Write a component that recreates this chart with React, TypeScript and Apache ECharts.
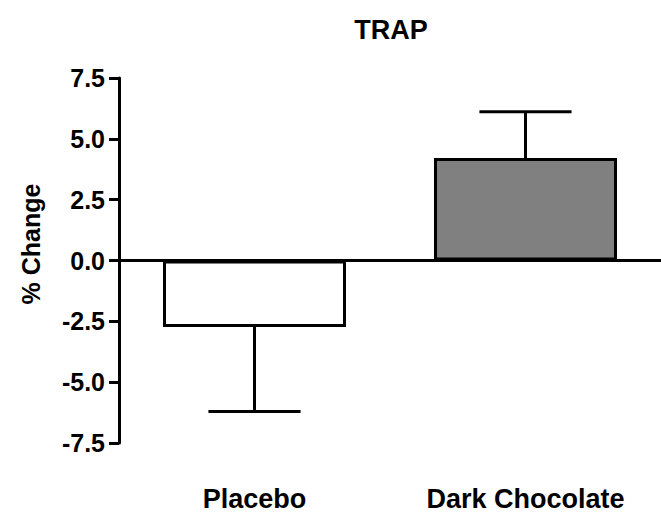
import React, { useEffect, useRef } from "react";
import * as echarts from "echarts";

const categories = ["Placebo", "Dark Chocolate"];
const meanValues = [-2.73, 4.21];
const semValues = [3.48, 1.9];
const barColors = ["#ffffff", "#808080"];
const yTicks = { min: -7.5, max: 7.5, interval: 2.5 };
const chartTitle = "TRAP";
const yTitle = "% Change";

const FONT = "'Liberation Sans', Arial, Helvetica, sans-serif";

export default function App() {
  const ref = useRef<HTMLDivElement>(null);
  useEffect(() => {
    if (!ref.current) return;
    const chart = echarts.init(ref.current, null, { renderer: "svg" });
    const option: any = {
      animation: false,
      backgroundColor: "#ffffff",
      title: {
        text: chartTitle,
        left: 386,
        top: 11,
        textAlign: "center",
        textStyle: { fontFamily: FONT, fontSize: 27, fontWeight: "bold", color: "#000" },
      },
      grid: { left: 119, top: 78, width: 554, height: 365, containLabel: false },
      xAxis: [
        {
          type: "category",
          data: categories,
          position: "bottom",
          axisLine: { show: true, onZero: true, lineStyle: { color: "#000", width: 3 } },
          axisTick: { show: false },
          axisLabel: { show: false },
        },
        {
          type: "category",
          data: categories,
          position: "bottom",
          axisLine: { show: false, onZero: false },
          axisTick: { show: false },
          axisLabel: {
            show: true,
            margin: 42,
            fontFamily: FONT,
            fontSize: 27,
            fontWeight: "bold",
            color: "#000",
          },
        },
      ],
      yAxis: {
        type: "value",
        min: yTicks.min,
        max: yTicks.max,
        interval: yTicks.interval,
        splitLine: { show: false },
        axisLine: { show: true, lineStyle: { color: "#000", width: 3 } },
        axisTick: { show: true, inside: false, length: 10, lineStyle: { color: "#000", width: 3 } },
        axisLabel: {
          margin: 14,
          fontFamily: FONT,
          fontSize: 25,
          fontWeight: "bold",
          color: "#000",
          formatter: (v: number) => v.toFixed(1),
        },
      },
      graphic: [
        {
          type: "text",
          x: 31,
          y: 244,
          rotation: Math.PI / 2,
          style: {
            text: yTitle,
            fontFamily: FONT,
            fontSize: 25,
            fontWeight: "bold",
            fill: "#000",
            align: "center",
            verticalAlign: "middle",
          },
        },
      ],
      series: [
        {
          type: "bar",
          xAxisIndex: 0,
          barWidth: 183,
          data: meanValues.map((v, i) => ({
            value: v,
            itemStyle: { color: barColors[i], borderColor: "#000", borderWidth: 3 },
          })),
          z: 3,
        },
        {
          type: "custom",
          xAxisIndex: 0,
          data: meanValues.map((v, i) => [i, v, semValues[i]]),
          z: 4,
          renderItem: (params: any, api: any) => {
            const idx = api.value(0);
            const mean = api.value(1);
            const err = api.value(2);
            const end = mean >= 0 ? mean + err : mean - err;
            const p0 = api.coord([idx, mean]);
            const p1 = api.coord([idx, end]);
            const band = api.size([1, 0])[0];
            const half = band * 0.17;
            const style = { stroke: "#000", lineWidth: 3 };
            return {
              type: "group",
              children: [
                { type: "line", shape: { x1: p0[0], y1: p0[1], x2: p1[0], y2: p1[1] }, style },
                { type: "line", shape: { x1: p1[0] - half, y1: p1[1], x2: p1[0] + half, y2: p1[1] }, style },
              ],
            };
          },
        },
      ],
    };
    chart.setOption(option);
    return () => chart.dispose();
  }, []);
  return (
    <div
      ref={ref}
      style={{ position: "absolute", left: 0, top: 0, width: 661, height: 518 }}
    />
  );
}
